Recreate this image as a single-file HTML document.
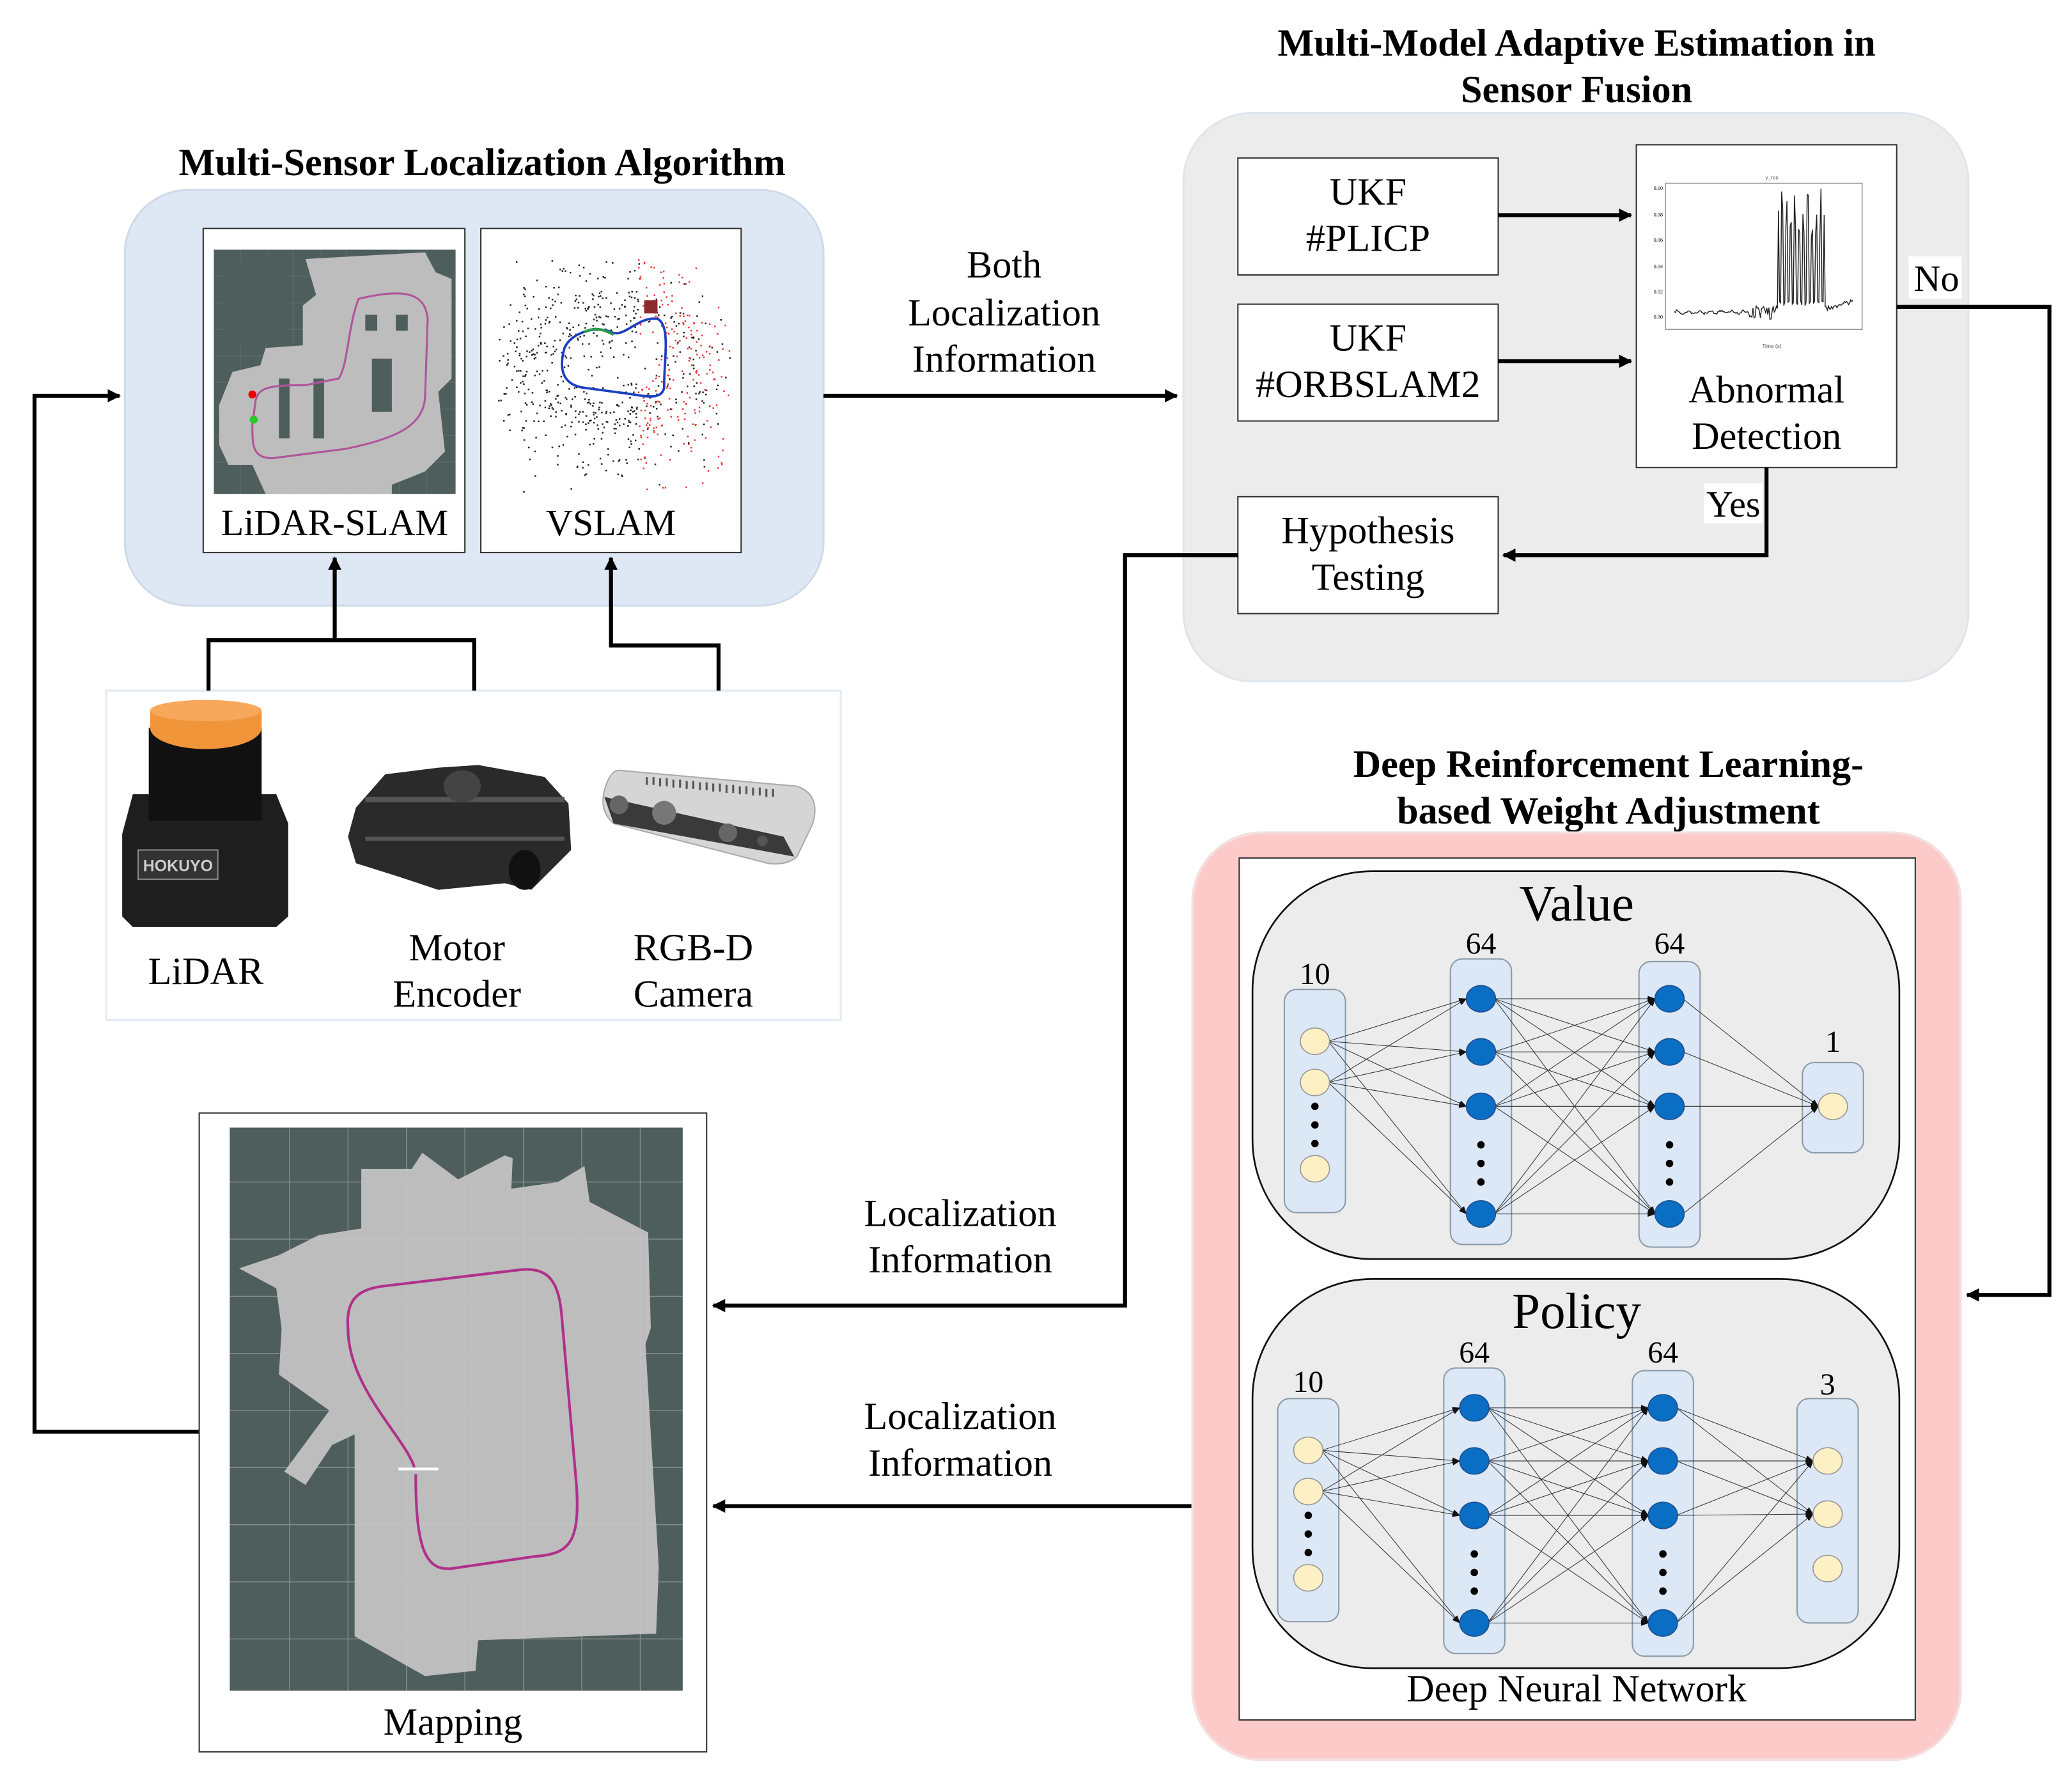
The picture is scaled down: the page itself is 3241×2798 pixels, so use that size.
<!DOCTYPE html>
<html><head><meta charset="utf-8"><style>
html,body{margin:0;padding:0;background:#fff;}
svg{display:block;}
text{font-family:"Liberation Serif",serif;fill:#000;}
</style></head><body>
<svg id="s" width="3241" height="2798" viewBox="0 0 1560 1347" preserveAspectRatio="none" xmlns="http://www.w3.org/2000/svg">
<defs>
<marker id="ah" markerWidth="10" markerHeight="10" refX="9" refY="5" orient="auto" markerUnits="userSpaceOnUse"><path d="M0,0 L10,5 L0,10 Z" fill="#000"/></marker>
<marker id="sa" markerWidth="6" markerHeight="6" refX="5.5" refY="3" orient="auto" markerUnits="userSpaceOnUse"><path d="M0,0.8 L6,3 L0,5.2 Z" fill="#111"/></marker>
</defs>

<text x="363" y="132" font-size="29" font-weight="bold" text-anchor="middle">Multi-Sensor Localization Algorithm</text>
<text x="1187" y="42" font-size="29" font-weight="bold" text-anchor="middle">Multi-Model Adaptive Estimation in</text>
<text x="1187" y="77" font-size="29" font-weight="bold" text-anchor="middle">Sensor Fusion</text>
<text x="1211" y="585" font-size="29" font-weight="bold" text-anchor="middle">Deep Reinforcement Learning-</text>
<text x="1211" y="620" font-size="29" font-weight="bold" text-anchor="middle">based Weight Adjustment</text>

<rect x="94" y="143" width="526" height="313" rx="48" fill="#dee8f4" stroke="#cfdbe8" stroke-width="1.5"/>
<rect x="153" y="172" width="197" height="244" fill="#fff" stroke="#333" stroke-width="1"/>
<rect x="362" y="172" width="196" height="244" fill="#fff" stroke="#333" stroke-width="1"/>
<rect x="161" y="188" width="182" height="184" fill="#4e5e5c"/>
<g stroke="#5d6d6b" stroke-width="0.6">
<path d="M161,208H343M161,228H343M161,248H343M161,268H343M161,288H343M161,308H343M161,328H343M161,348H343M181,188V372M201,188V372M221,188V372M241,188V372M261,188V372M281,188V372M301,188V372M321,188V372"/>
</g>
<path d="M230,195 L320,190 L328,205 L340,210 L340,285 L330,295 L335,340 L320,355 L295,365 L295,372 L200,372 L190,350 L172,350 L165,335 L165,305 L175,280 L196,275 L200,262 L228,260 L228,230 L238,222 Z" fill="#bdbdbd"/>
<g fill="#4e5e5c"><rect x="210" y="285" width="8" height="45"/><rect x="236" y="285" width="8" height="45"/><rect x="275" y="237" width="9" height="12"/><rect x="298" y="237" width="9" height="12"/><rect x="280" y="270" width="15" height="40"/><rect x="168" y="195" width="50" height="65" rx="20"/></g>
<path d="M270,225 C300,218 320,218 322,240 L320,300 C318,320 300,330 260,338 L205,345 C190,345 190,335 190,320 L192,305 C193,292 200,290 230,290 L255,285 C262,275 262,245 270,225 Z" fill="none" stroke="#b0559a" stroke-width="1.5"/>
<circle cx="190" cy="297" r="3" fill="#e00"/><circle cx="191" cy="316" r="3" fill="#2c2"/>
<g id="vs"></g>
<path d="M425,262 C430,250 450,245 460,250 C470,255 480,238 495,240 C505,245 500,270 500,292 C498,302 485,298 470,296 L440,292 C425,290 420,280 425,262 Z" fill="none" stroke="#1a3fbf" stroke-width="1.8"/>
<path d="M440,250 C450,245 458,250 462,252" fill="none" stroke="#2a9a4a" stroke-width="2"/>
<rect x="485" y="226" width="10" height="10" fill="#8a2a2a"/>
<text x="252" y="403" font-size="28" text-anchor="middle">LiDAR-SLAM</text>
<text x="460" y="403" font-size="28" text-anchor="middle">VSLAM</text>

<rect x="80" y="520" width="553" height="248" fill="#fff" stroke="#e3eaf2" stroke-width="1.5"/>
<path d="M92,628 L100,598 L208,598 L217,620 L217,690 L208,698 L100,698 L92,690 Z" fill="#1e1e1e"/>
<rect x="112" y="548" width="85" height="70" fill="#111"/>
<ellipse cx="155" cy="548" rx="42" ry="16" fill="#f0953a"/>
<rect x="113" y="535" width="84" height="14" fill="#f0953a"/>
<ellipse cx="155" cy="535" rx="42" ry="8" fill="#f7a85a"/>
<rect x="104" y="640" width="60" height="22" fill="#333" stroke="#888" stroke-width="1"/>
<text x="134" y="656" font-size="12" font-weight="bold" text-anchor="middle" style="fill:#ccc;font-family:'Liberation Sans',sans-serif">HOKUYO</text>
<path d="M268,608 L290,583 L330,578 L360,576 L410,585 L428,605 L430,640 L410,660 L400,670 L380,665 L330,670 L300,660 L268,650 L262,630 Z" fill="#2a2a2a"/>
<g fill="#555"><rect x="275" y="600" width="150" height="4"/><rect x="275" y="630" width="150" height="3"/></g>
<ellipse cx="348" cy="592" rx="14" ry="12" fill="#444"/>
<ellipse cx="395" cy="655" rx="12" ry="15" fill="#111"/>
<path d="M466,580 L600,592 Q618,598 612,620 L600,645 Q592,652 578,650 L462,620 Q450,610 456,592 Q460,580 466,580 Z" fill="#d5d5d5" stroke="#aaa" stroke-width="1"/>
<path d="M455,600 L590,630 L598,645 L462,620 Z" fill="#3a3a3a"/>
<circle cx="466" cy="606" r="7" fill="#666"/><circle cx="500" cy="612" r="9" fill="#777"/><circle cx="548" cy="627" r="7" fill="#666"/><circle cx="574" cy="633" r="4" fill="#555"/>
<g stroke="#555" stroke-width="1.5"><path d="M487,585v6M492,585v6M497,586v6M502,586v6M507,587v6M512,587v6M517,588v6M522,588v6M527,589v6M532,589v6M537,590v6M542,590v6M547,591v6M552,591v6M557,592v6M562,592v6M567,593v6M572,593v6M577,594v6M582,594v6"/></g>
<text x="155" y="741" font-size="29" text-anchor="middle">LiDAR</text>
<text x="344" y="723" font-size="29" text-anchor="middle">Motor</text>
<text x="344" y="758" font-size="29" text-anchor="middle">Encoder</text>
<text x="522" y="723" font-size="29" text-anchor="middle">RGB-D</text>
<text x="522" y="758" font-size="29" text-anchor="middle">Camera</text>

<g fill="none" stroke="#000" stroke-width="3">
<path d="M157,520 V482 H357 V520"/>
<path d="M252,482 V420" marker-end="url(#ah)"/>
<path d="M541,520 V486 H460 V420" marker-end="url(#ah)"/>
</g>

<rect x="891" y="85" width="591" height="428" rx="52" fill="#ececec" stroke="#dfe5ec" stroke-width="1.5"/>
<rect x="932" y="119" width="196" height="88" fill="#fff" stroke="#333"/>
<rect x="932" y="229" width="196" height="88" fill="#fff" stroke="#333"/>
<rect x="932" y="374" width="196" height="88" fill="#fff" stroke="#333"/>
<rect x="1232" y="109" width="196" height="243" fill="#fff" stroke="#333"/>
<text x="1030" y="154" font-size="29" text-anchor="middle">UKF</text>
<text x="1030" y="189" font-size="29" text-anchor="middle">#PLICP</text>
<text x="1030" y="264" font-size="29" text-anchor="middle">UKF</text>
<text x="1030" y="299" font-size="29" text-anchor="middle">#ORBSLAM2</text>
<text x="1030" y="409" font-size="29" text-anchor="middle">Hypothesis</text>
<text x="1030" y="444" font-size="29" text-anchor="middle">Testing</text>
<text x="1330" y="303" font-size="29" text-anchor="middle">Abnormal</text>
<text x="1330" y="338" font-size="29" text-anchor="middle">Detection</text>
<rect x="1254" y="138" width="148" height="110" fill="#fff" stroke="#999" stroke-width="0.8"/>
<text x="1334" y="135" font-size="4" text-anchor="middle" style="font-family:'Liberation Sans',sans-serif;fill:#555">y_res</text>
<text x="1334" y="262" font-size="4" text-anchor="middle" style="font-family:'Liberation Sans',sans-serif;fill:#555">Time (s)</text>
<g font-size="4" style="font-family:'Liberation Sans',sans-serif;fill:#555" text-anchor="end">
<text x="1252" y="143">0.10</text><text x="1252" y="163">0.08</text><text x="1252" y="182">0.06</text><text x="1252" y="202">0.04</text><text x="1252" y="221">0.02</text><text x="1252" y="240">0.00</text></g>
<polyline id="pl" fill="none" stroke="#222" stroke-width="0.7" points=""/>

<g fill="none" stroke="#000" stroke-width="3">
<path d="M1128,162 H1228" marker-end="url(#ah)"/>
<path d="M1128,272 H1228" marker-end="url(#ah)"/>
<path d="M1330,352 V418 H1132" marker-end="url(#ah)"/>
<path d="M1428,231 H1543 V975 H1481" marker-end="url(#ah)"/>
<path d="M932,418 H847 V983 H537" marker-end="url(#ah)"/>
<path d="M620,298 H886" marker-end="url(#ah)"/>
<path d="M150,1078 H26 V298 H90" marker-end="url(#ah)"/>
<path d="M898,1134 H537" marker-end="url(#ah)"/>
</g>
<rect x="1283" y="364" width="44" height="30" fill="#fff"/>
<text x="1305" y="389" font-size="28" text-anchor="middle">Yes</text>
<rect x="1437" y="193" width="40" height="32" fill="#fff"/>
<text x="1458" y="219" font-size="28" text-anchor="middle">No</text>

<text x="756" y="209" font-size="29" text-anchor="middle">Both</text>
<text x="756" y="245" font-size="29" text-anchor="middle">Localization</text>
<text x="756" y="280" font-size="29" text-anchor="middle">Information</text>
<text x="723" y="923" font-size="29" text-anchor="middle">Localization</text>
<text x="723" y="958" font-size="29" text-anchor="middle">Information</text>
<text x="723" y="1076" font-size="29" text-anchor="middle">Localization</text>
<text x="723" y="1111" font-size="29" text-anchor="middle">Information</text>

<rect x="150" y="838" width="382" height="481" fill="#fff" stroke="#333"/>
<rect x="173" y="849" width="341" height="424" fill="#4e5e5c"/>
<path d="M272,880 L310,880 L318,868 L345,888 L380,870 L386,872 L385,895 L420,890 L440,878 L444,905 L488,928 L490,1000 L486,1012 L490,1080 L496,1180 L494,1230 L360,1235 L358,1258 L320,1262 L267,1232 L267,1080 L250,1088 L230,1118 L214,1108 L248,1062 L210,1035 L212,1000 L208,970 L180,955 L210,945 L240,930 L272,925 Z" fill="#bdbdbd"/>
<g stroke="#c8c8c8" stroke-width="0.6"><path d="M173,890H514M173,933H514M173,976H514M173,1019H514M173,1062H514M173,1105H514M173,1148H514M173,1191H514M173,1234H514M218,849V1273M262,849V1273M306,849V1273M350,849V1273M394,849V1273M438,849V1273M482,849V1273" opacity="0.5"/></g>
<path d="M312,1105 C305,1082 262,1045 262,1000 C260,976 272,970 292,968 L392,956 C414,954 421,966 423,992 L434,1118 C437,1163 428,1170 402,1172 L340,1181 C320,1183 313,1165 313,1110" fill="none" stroke="#b0308a" stroke-width="2"/>
<path d="M300,1106 H330" stroke="#fff" stroke-width="2"/>
<text x="341" y="1306" font-size="29" text-anchor="middle">Mapping</text>

<rect x="898" y="627" width="578" height="698" rx="52" fill="#fdcaca" stroke="#f4dede" stroke-width="2"/>
<rect x="933" y="646" width="509" height="649" fill="#fff" stroke="#333"/>
<rect x="943" y="656" width="487" height="292" rx="90" fill="#ececec" stroke="#111" stroke-width="1.3"/>
<rect x="943" y="963" width="487" height="293" rx="90" fill="#ececec" stroke="#111" stroke-width="1.3"/>
<text x="1187" y="693" font-size="38" text-anchor="middle">Value</text>
<text x="1187" y="1000" font-size="38" text-anchor="middle">Policy</text>
<text x="1187" y="1281" font-size="29" text-anchor="middle">Deep Neural Network</text>
<g id="nn"></g>
</svg>
<script>
var NS="http://www.w3.org/2000/svg";
function el(p,t,a){var e=document.createElementNS(NS,t);for(var k in a)e.setAttribute(k,a[k]);p.appendChild(e);return e;}
var vs=document.getElementById('vs');var seed=7;function r(){seed=(seed*16807)%2147483647;return seed/2147483647;}
for(var i=0;i<1400;i++){var x=375+r()*175,y=195+r()*175;var dx=(x-460)/90,dy=(y-275)/80;if(dx*dx+dy*dy>1.1&&r()<0.8)continue;
var ring=Math.abs(Math.sqrt(((x-462)/45)*((x-462)/45)+((y-272)/30)*((y-272)/30))-1.3);if(ring>0.5&&r()<0.6)continue;
var red=x>480&&r()<0.7;el(vs,'rect',{x:x,y:y,width:1.2,height:1.2,fill:red?'#e33':'#222'});}
var pts=[];for(var t=0;t<=33.6;t+=0.2){var v=0.001*Math.sin(t*3)+0.001*(r()-0.5)*2;if(t>=14&&t<19.5)v+=(r()-0.5)*0.012;
if(t>=19.5&&t<28.3){v=(Math.floor(t*2.5)%2)?0.005+r()*0.004:0.06+r()*0.04;}
if(t>=28.3)v=0.003+(t-28.3)*0.001+(r()-0.5)*0.004;pts.push((1260.6+t*4).toFixed(1)+','+(235-v*935).toFixed(1));}
document.getElementById('pl').setAttribute('points',pts.join(' '));
var nn=document.getElementById('nn');
function net(off,inX,h1X,h2X,outX,outYs,colOut,labOutY,labOut,inLab){
 var H=[752,792,833,914].map(function(y){return y+off;});
 var IN=[784,815,880].map(function(y){return y+off;});
 el(nn,'rect',{x:inX-23,y:745+off,width:46,height:168,rx:9,fill:'#dce8f5',stroke:'#8a9aa8'});
 el(nn,'rect',{x:h1X-23,y:722+off,width:46,height:215,rx:9,fill:'#dce8f5',stroke:'#8a9aa8'});
 el(nn,'rect',{x:h2X-23,y:724+off,width:46,height:215,rx:9,fill:'#dce8f5',stroke:'#8a9aa8'});
 el(nn,'rect',{x:outX-23,y:colOut[0],width:46,height:colOut[1],rx:9,fill:'#dce8f5',stroke:'#8a9aa8'});
 function ln(x1,y1,x2,y2){el(nn,'line',{x1:x1+10,y1:y1,x2:x2-11,y2:y2,stroke:'#333','stroke-width':0.5,'marker-end':'url(#sa)'});}
 [IN[0],IN[1]].forEach(function(a){H.forEach(function(b){ln(inX,a,h1X,b);});});
 H.forEach(function(a){H.forEach(function(b){ln(h1X,a,h2X,b);});});
 H.forEach(function(a){outYs.slice(0,2).forEach(function(b){ln(h2X,a,outX,b);});});
 IN.forEach(function(y){el(nn,'ellipse',{cx:inX,cy:y,rx:11,ry:10,fill:'#fdf0c4',stroke:'#999','stroke-width':0.8});});
 [h1X,h2X].forEach(function(x){H.forEach(function(y){el(nn,'ellipse',{cx:x,cy:y,rx:11,ry:10,fill:'#0a6ec4',stroke:'#1f4f90','stroke-width':0.8});});
  [862,876,890].forEach(function(y){el(nn,'circle',{cx:x,cy:y+off,r:2.8,fill:'#000'});});});
 [833,847,861].forEach(function(y){el(nn,'circle',{cx:inX,cy:y+off,r:2.8,fill:'#000'});});
 outYs.forEach(function(y){el(nn,'ellipse',{cx:outX,cy:y,rx:11,ry:10,fill:'#fdf0c4',stroke:'#999','stroke-width':0.8});});
 function tx(x,y,s){var e=el(nn,'text',{x:x,y:y,'font-size':23,'text-anchor':'middle'});e.textContent=s;}
 tx(inX,inLab,'10');tx(h1X,718+off,'64');tx(h2X,718+off,'64');tx(outX,labOutY,labOut);
}
net(0,990,1115,1257,1380,[833],[800,68],792,'1',741);
net(308,985,1110,1252,1376,[1100,1140,1181],[1053,169],1050,'3',1048);
</script>
</body></html>
